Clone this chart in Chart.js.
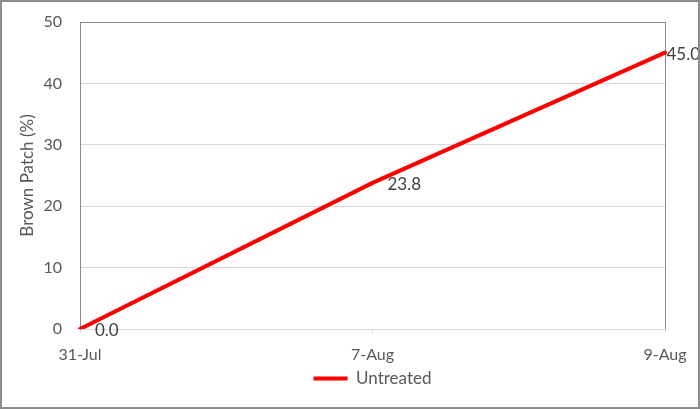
<!DOCTYPE html>
<html>
<head>
<meta charset="utf-8">
<script src="https://cdn.jsdelivr.net/npm/chart.js@4.4.0/dist/chart.umd.min.js"></script>
<style>
  body { margin: 0; background: #fff; }
  #wrap { width: 700px; height: 409px; }
</style>
</head>
<body>
<div id="wrap"><canvas id="brownPatchChart" width="700" height="409"></canvas></div>
<script>
const dates = ['31-Jul', '7-Aug', '9-Aug'];
const untreated = [0.0, 23.8, 45.0];
const yMin = 0, yMax = 50, yStep = 10;

const FONT = 'Lato, "Open Sans", sans-serif';

// value labels to the right of each point, pushed back inside the picture at the edge
const pointLabels = {
    id: 'pointLabels',
    afterDatasetsDraw(chart) {
        const ctx = chart.ctx;
        const meta = chart.getDatasetMeta(0);
        ctx.save();
        ctx.font = '17px ' + FONT;
        ctx.fillStyle = '#404040';
        ctx.textAlign = 'left';
        ctx.textBaseline = 'middle';
        meta.data.forEach((pt, i) => {
            const txt = untreated[i].toFixed(1);
            const w = ctx.measureText(txt).width;
            let x = pt.x + 15;
            if (x + w > chart.width) x = chart.width - w;
            ctx.fillText(txt, x, pt.y + 2);
        });
        ctx.restore();
    }
};

// outer frame
const frame = {
    id: 'frame',
    afterDraw(chart) {
        const ctx = chart.ctx;
        ctx.save();
        ctx.strokeStyle = '#8c8c8c';
        ctx.lineWidth = 2;
        ctx.strokeRect(1, 1, chart.width - 2, chart.height - 2);
        ctx.restore();
    }
};

const ctx = document.getElementById('brownPatchChart').getContext('2d');
new Chart(ctx, {
    type: 'line',
    data: {
        labels: dates,
        datasets: [{
            label: 'Untreated',
            data: untreated,
            borderColor: '#ff0000',
            backgroundColor: '#ff0000',
            borderWidth: 4,
            borderCapStyle: 'round',
            pointRadius: 0,
            tension: 0,
            fill: false
        }]
    },
    options: {
        responsive: false,
        animation: false,
        layout: { padding: { top: 22, right: 35, left: 0, bottom: 12 } },
        scales: {
            x: {
                offset: false,
                grid: {
                    drawOnChartArea: true,
                    color: c => c.index === dates.length - 1 ? '#8c8c8c' : 'rgba(0,0,0,0)',
                    tickColor: '#d9d9d9',
                    tickLength: 4
                },
                border: { display: false },
                ticks: { color: '#595959', font: { family: FONT, size: 16 }, padding: 12, maxRotation: 0 },
                afterFit: s => { s.height = 35; }
            },
            y: {
                min: yMin,
                max: yMax,
                ticks: { stepSize: yStep, color: '#595959', font: { family: FONT, size: 16 }, padding: 0 },
                grid: {
                    color: c => c.tick.value === yMax ? '#8c8c8c' : '#d9d9d9',
                    drawTicks: true,
                    tickLength: 18,
                    tickColor: 'rgba(0,0,0,0)'
                },
                border: { display: true, color: '#8c8c8c', width: 1 },
                title: {
                    display: true,
                    text: 'Brown Patch (%)',
                    color: '#595959',
                    font: { family: FONT, size: 17 },
                    padding: { top: 17, bottom: 0 }
                },
                afterFit: s => { s.width = 80; }
            }
        },
        plugins: {
            legend: {
                position: 'bottom',
                fullSize: false,
                labels: {
                    usePointStyle: true,
                    pointStyle: 'line',
                    pointStyleWidth: 34,
                    color: '#595959',
                    font: { family: FONT, size: 17 },
                    padding: 6
                }
            },
            tooltip: { enabled: false }
        }
    },
    plugins: [pointLabels, frame]
});
</script>
</body>
</html>
